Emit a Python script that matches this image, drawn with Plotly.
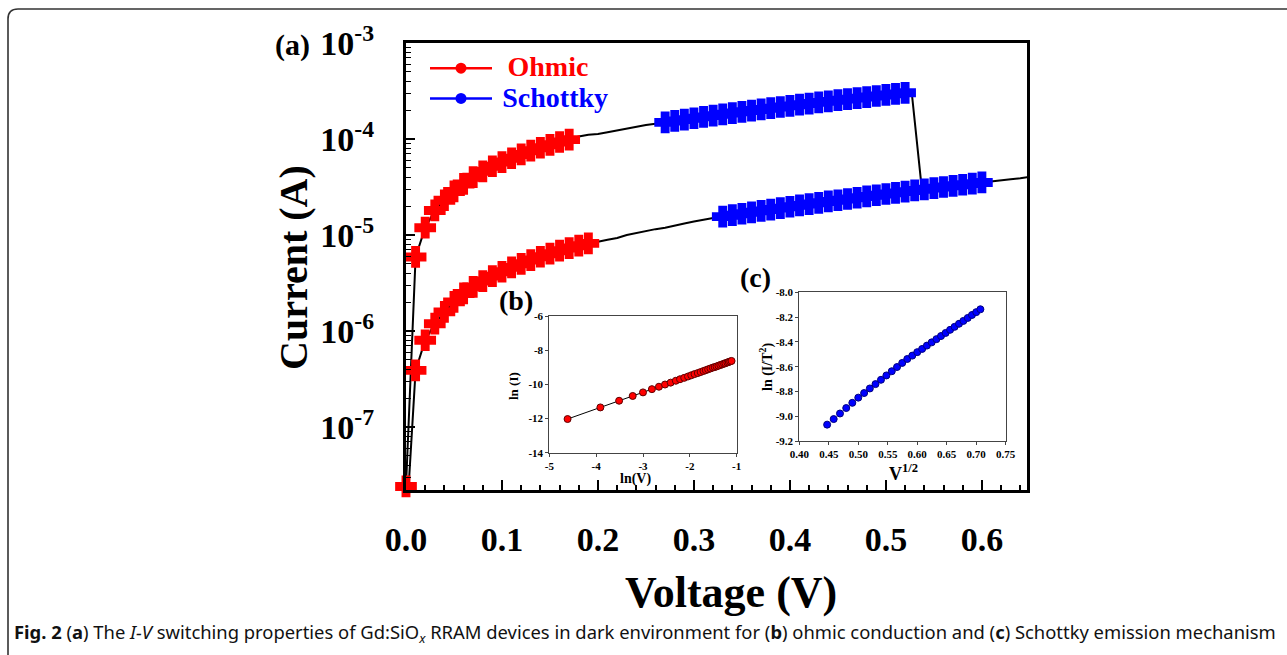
import plotly.graph_objects as go

# ---------------- main I-V data ----------------
# low resistance state (upper curve)
V_lrs_red = [0.00, 0.01, 0.02, 0.03, 0.04, 0.05, 0.06, 0.07, 0.08, 0.09, 0.10,
             0.11, 0.12, 0.13, 0.14, 0.15, 0.16, 0.17]
I_lrs_red = [2.4e-8, 5.9e-6, 1.19e-5, 1.8e-5, 2.3e-5, 2.84e-5, 3.4e-5, 4.0e-5, 4.6e-5,
             5.2e-5, 5.75e-5, 6.3e-5, 6.9e-5, 7.55e-5, 8.1e-5, 8.7e-5, 9.3e-5, 9.85e-5]
V_lrs_mid = [0.18, 0.19, 0.20, 0.21, 0.22, 0.23, 0.24, 0.25, 0.26]
I_lrs_mid = [1.059e-4, 1.109e-4, 1.127e-4, 1.175e-4, 1.230e-4, 1.288e-4, 1.349e-4,
             1.396e-4, 1.445e-4]
V_lrs_blue = [0.27, 0.28, 0.29, 0.30, 0.31, 0.32, 0.33, 0.34, 0.35, 0.36, 0.37, 0.38,
              0.39, 0.40, 0.41, 0.42, 0.43, 0.44, 0.45, 0.46, 0.47, 0.48, 0.49, 0.50,
              0.51, 0.52]
I_lrs_blue = [1.489e-4, 1.542e-4, 1.592e-4, 1.644e-4, 1.698e-4, 1.750e-4, 1.807e-4,
              1.862e-4, 1.919e-4, 1.977e-4, 2.032e-4, 2.094e-4, 2.153e-4, 2.213e-4,
              2.275e-4, 2.339e-4, 2.404e-4, 2.466e-4, 2.535e-4, 2.600e-4, 2.667e-4,
              2.735e-4, 2.805e-4, 2.877e-4, 2.951e-4, 3.027e-4]
V_reset = [0.527, 0.537]
I_reset = [2.98e-4, 3.3e-5]

# high resistance state (lower curve)
V_hrs_start = [0.002]
I_hrs_start = [1.8e-8]
V_hrs_red = [0.01, 0.02, 0.03, 0.04, 0.05, 0.06, 0.07, 0.08, 0.09, 0.10, 0.11, 0.12,
             0.13, 0.14, 0.15, 0.16, 0.17, 0.18, 0.19]
I_hrs_red = [3.88e-7, 8.0e-7, 1.19e-6, 1.58e-6, 2.01e-6, 2.46e-6, 2.88e-6, 3.31e-6,
             3.73e-6, 4.14e-6, 4.60e-6, 5.01e-6, 5.48e-6, 5.93e-6, 6.38e-6, 6.86e-6,
             7.31e-6, 7.73e-6, 8.18e-6]
V_hrs_mid = [0.20, 0.21, 0.22, 0.23, 0.24, 0.25, 0.26, 0.27, 0.28, 0.29, 0.30, 0.31, 0.32]
I_hrs_mid = [8.5e-6, 8.9e-6, 9.3e-6, 1.0e-5, 1.05e-5, 1.1e-5, 1.15e-5, 1.19e-5, 1.26e-5,
             1.32e-5, 1.38e-5, 1.45e-5, 1.5e-5]
V_hrs_blue = [0.33, 0.34, 0.35, 0.36, 0.37, 0.38, 0.39, 0.40, 0.41, 0.42, 0.43, 0.44,
              0.45, 0.46, 0.47, 0.48, 0.49, 0.50, 0.51, 0.52, 0.53, 0.54, 0.55, 0.56,
              0.57, 0.58, 0.59, 0.60]
I_hrs_blue = [1.552e-5, 1.607e-5, 1.663e-5, 1.722e-5, 1.782e-5, 1.841e-5, 1.905e-5,
              1.968e-5, 2.032e-5, 2.099e-5, 2.163e-5, 2.234e-5, 2.301e-5, 2.371e-5,
              2.443e-5, 2.518e-5, 2.594e-5, 2.673e-5, 2.748e-5, 2.831e-5, 2.911e-5,
              2.992e-5, 3.076e-5, 3.162e-5, 3.251e-5, 3.334e-5, 3.428e-5, 3.524e-5]
V_hrs_end = [0.61, 0.62, 0.63, 0.64, 0.65]
I_hrs_end = [3.63e-5, 3.72e-5, 3.80e-5, 3.89e-5, 4.03e-5]

# ---------------- inset (b): ln(I) vs ln(V) ----------------
lnV_b = [-4.61, -3.91, -3.51, -3.22, -3.00, -2.81, -2.66, -2.53, -2.41, -2.30, -2.21,
         -2.12, -2.04, -1.97, -1.90, -1.83, -1.77, -1.71, -1.66, -1.61, -1.56, -1.51,
         -1.47, -1.43, -1.39, -1.35, -1.31, -1.27, -1.24, -1.20, -1.17, -1.14, -1.11]
lnI_b = [-12.03, -11.35, -10.96, -10.68, -10.47, -10.28, -10.14, -10.01, -9.90, -9.79,
         -9.70, -9.62, -9.54, -9.47, -9.40, -9.34, -9.28, -9.22, -9.17, -9.12, -9.07,
         -9.02, -8.99, -8.95, -8.91, -8.87, -8.83, -8.79, -8.76, -8.72, -8.69, -8.66, -8.63]

# ---------------- inset (c): ln(I/T^2) vs V^1/2 ----------------
sqrtV_c = [0.4472, 0.4583, 0.4690, 0.4796, 0.4899, 0.5000, 0.5099, 0.5196, 0.5292,
           0.5385, 0.5477, 0.5568, 0.5657, 0.5745, 0.5831, 0.5916, 0.6000, 0.6083,
           0.6164, 0.6245, 0.6325, 0.6403, 0.6481, 0.6557, 0.6633, 0.6708, 0.6782,
           0.6856, 0.6928, 0.7000, 0.7071]
lnIT2_c = [-9.068, -9.023, -8.978, -8.934, -8.892, -8.850, -8.813, -8.776, -8.741,
           -8.706, -8.671, -8.637, -8.603, -8.570, -8.538, -8.511, -8.483, -8.457,
           -8.430, -8.404, -8.378, -8.353, -8.328, -8.303, -8.279, -8.254, -8.231,
           -8.207, -8.183, -8.160, -8.137]

# tick labels
x_main_ticks = [0.0, 0.1, 0.2, 0.3, 0.4, 0.5, 0.6]
x_main_text = ["0.0", "0.1", "0.2", "0.3", "0.4", "0.5", "0.6"]
y_main_ticks = [1e-7, 1e-6, 1e-5, 1e-4, 1e-3]
y_main_text = ["10<sup>-7</sup>", "10<sup>-6</sup>", "10<sup>-5</sup>",
               "10<sup>-4</sup>", "10<sup>-3</sup>"]
xb_ticks = [-5, -4, -3, -2, -1]
xb_text = ["-5", "-4", "-3", "-2", "-1"]
yb_ticks = [-14, -12, -10, -8, -6]
yb_text = ["-14", "-12", "-10", "-8", "-6"]
xc_ticks = [0.40, 0.45, 0.50, 0.55, 0.60, 0.65, 0.70, 0.75]
xc_text = ["0.40", "0.45", "0.50", "0.55", "0.60", "0.65", "0.70", "0.75"]
yc_ticks = [-9.2, -9.0, -8.8, -8.6, -8.4, -8.2, -8.0]
yc_text = ["-9.2", "-9.0", "-8.8", "-8.6", "-8.4", "-8.2", "-8.0"]

W, H = 1287, 655
SERIF = "Liberation Serif, Times New Roman, serif"


def px_x(p):
    return p / W


def px_y(p):
    return 1 - p / H


fig = go.Figure()

# curves (lines)
fig.add_trace(go.Scatter(
    x=V_lrs_red + V_lrs_mid + V_lrs_blue + V_reset,
    y=I_lrs_red + I_lrs_mid + I_lrs_blue + I_reset,
    mode="lines", line=dict(color="black", width=2), showlegend=False,
    xaxis="x", yaxis="y"))
fig.add_trace(go.Scatter(
    x=V_hrs_start + V_hrs_red + V_hrs_mid + V_hrs_blue + V_hrs_end,
    y=I_hrs_start + I_hrs_red + I_hrs_mid + I_hrs_blue + I_hrs_end,
    mode="lines", line=dict(color="black", width=2), showlegend=False,
    xaxis="x", yaxis="y"))

# ohmic markers
fig.add_trace(go.Scatter(
    x=V_lrs_red + [None] + V_hrs_red, y=I_lrs_red + [None] + I_hrs_red,
    mode="markers", cliponaxis=False, showlegend=False,
    marker=dict(color="#ff0000", symbol="cross", size=16,
                line=dict(color="#ff0000", width=2.5)),
    xaxis="x", yaxis="y"))
# schottky markers
fig.add_trace(go.Scatter(
    x=V_lrs_blue + [None] + V_hrs_blue, y=I_lrs_blue + [None] + I_hrs_blue,
    mode="markers", cliponaxis=False, showlegend=False,
    marker=dict(color="#0000ff", symbol="cross", size=16,
                line=dict(color="#0000ff", width=2.5)),
    xaxis="x", yaxis="y"))

# legend entries
fig.add_trace(go.Scatter(
    x=[None], y=[None], mode="lines+markers",
    name="&nbsp;&nbsp;<span style='font-size:28px;color:#ff0000'>Ohmic</span>",
    line=dict(color="#ff0000", width=2.5),
    marker=dict(color="#ff0000", symbol="circle", size=11),
    xaxis="x", yaxis="y"))
fig.add_trace(go.Scatter(
    x=[None], y=[None], mode="lines+markers",
    name="&nbsp;<span style='font-size:28px;color:#0000ff'>Schottky</span>",
    line=dict(color="#0000ff", width=2.5),
    marker=dict(color="#0000ff", symbol="circle", size=11),
    xaxis="x", yaxis="y"))

# inset b
fig.add_trace(go.Scatter(
    x=lnV_b, y=lnI_b, mode="lines+markers", showlegend=False,
    line=dict(color="black", width=1),
    marker=dict(color="#ff0000", size=7, line=dict(color="#600000", width=1)),
    xaxis="x2", yaxis="y2"))
# inset c
fig.add_trace(go.Scatter(
    x=sqrtV_c, y=lnIT2_c, mode="markers", showlegend=False,
    marker=dict(color="#0000ff", size=7, line=dict(color="#000080", width=1)),
    xaxis="x3", yaxis="y3"))

main_font = dict(family=SERIF, size=34, color="black", weight="bold")
minor_x = dict(ticks="inside", ticklen=5, tickwidth=1.5, tickcolor="black",
               dtick=0.02, showgrid=False)
minor_y_vals = [m * 10 ** e for e in range(-8, -3) for m in range(2, 10)
                if 2.2e-8 <= m * 10 ** e <= 1e-3]

inset_font = dict(family=SERIF, size=11, color="black", weight="bold")

fig.update_layout(
    width=W, height=H, template="none",
    paper_bgcolor="white", plot_bgcolor="white",
    margin=dict(l=0, r=0, t=0, b=0),
    showlegend=True,
    legend=dict(x=px_x(425), y=px_y(48), xanchor="left", yanchor="top",
                bgcolor="rgba(0,0,0,0)", itemwidth=62, tracegroupgap=0,
                font=dict(family=SERIF, size=21, weight="bold", color="black")),
    xaxis=dict(domain=[px_x(406), px_x(1027)], range=[0, 0.647],
               showline=True, linewidth=3, linecolor="black", mirror=True,
               ticks="inside", ticklen=10, tickwidth=1.5, tickcolor="black",
               tickvals=x_main_ticks, ticktext=x_main_text, tickfont=main_font,
               ticklabelstandoff=17, showgrid=False, zeroline=False,
               minor=minor_x, anchor="y"),
    yaxis=dict(domain=[px_y(490), px_y(43)], type="log",
               range=[-7.657, -3.0],
               showline=True, linewidth=3, linecolor="black", mirror=True,
               ticks="inside", ticklen=9, tickwidth=1.5, tickcolor="black",
               tickvals=y_main_ticks, ticktext=y_main_text, tickfont=main_font,
               ticklabelstandoff=22, showgrid=False, zeroline=False,
               minor=dict(ticks="inside", ticklen=5, tickwidth=1, tickcolor="black",
                          tickvals=minor_y_vals, showgrid=False),
               anchor="x"),
    xaxis2=dict(domain=[px_x(549.3), px_x(736.7)], range=[-5, -1],
                showline=True, linewidth=1, linecolor="#444", mirror=True,
                ticks="outside", ticklen=3, tickcolor="#444",
                tickvals=xb_ticks, ticktext=xb_text, tickfont=inset_font,
                showgrid=False, zeroline=False, anchor="y2"),
    yaxis2=dict(domain=[px_y(452.7), px_y(316)], range=[-14, -6],
                showline=True, linewidth=1, linecolor="#444", mirror=True,
                ticks="outside", ticklen=3, tickcolor="#444",
                tickvals=yb_ticks, ticktext=yb_text, tickfont=inset_font,
                showgrid=False, zeroline=False, anchor="x2"),
    xaxis3=dict(domain=[px_x(799.3), px_x(1005.7)], range=[0.40, 0.75],
                showline=True, linewidth=1, linecolor="#444", mirror=True,
                ticks="outside", ticklen=3, tickcolor="#444",
                tickvals=xc_ticks, ticktext=xc_text, tickfont=inset_font,
                showgrid=False, zeroline=False, anchor="y3"),
    yaxis3=dict(domain=[px_y(441), px_y(292.3)], range=[-9.2, -8.0],
                showline=True, linewidth=1, linecolor="#444", mirror=True,
                ticks="outside", ticklen=3, tickcolor="#444",
                tickvals=yc_ticks, ticktext=yc_text, tickfont=inset_font,
                showgrid=False, zeroline=False, anchor="x3"),
)


def ann(text, x, y, size, angle=0, family=SERIF, bold=True, xanchor="center"):
    fig.add_annotation(text=text, x=px_x(x), y=px_y(y), xref="paper", yref="paper",
                       showarrow=False, textangle=angle, xanchor=xanchor,
                       yanchor="middle",
                       font=dict(family=family, size=size, color="black",
                                 weight="bold" if bold else "normal"))


ann("Current (A)", 293, 268, 40, angle=-90)
ann("Voltage (V)", 731, 592, 44)
ann("(a)", 292, 45, 30)
ann("(b)", 516, 301, 28)
ann("(c)", 755, 277, 28)
ann("ln(V)", 635, 479, 14)
ann("ln (I)", 513, 386, 13, angle=-90)
ann("V<sup>1/2</sup>", 903, 472, 18)
ann("ln (I/T<sup>2</sup>)", 767, 367, 14, angle=-90)

fig.add_annotation(
    text="<b>Fig. 2</b> (<b>a</b>) The <i>I-V</i> switching properties of Gd:SiO<sub><i>x</i></sub> "
         "RRAM devices in dark environment for (<b>b</b>) ohmic conduction and "
         "(<b>c</b>) Schottky emission mechanism",
    x=px_x(12), y=px_y(633), xref="paper", yref="paper", showarrow=False,
    xanchor="left", yanchor="middle",
    font=dict(family="Liberation Sans Narrow, Noto Sans, sans-serif", size=18.4,
              color="#111"))

# figure frame (rounded top-left corner, open at right)
x0, yt, r = 8, 9, 10
path = (f"M {px_x(x0)},{px_y(H + 5)} L {px_x(x0)},{px_y(yt + r)} "
        f"Q {px_x(x0)},{px_y(yt)} {px_x(x0 + r)},{px_y(yt)} L {px_x(W + 5)},{px_y(yt)}")
fig.add_shape(type="path", path=path, xref="paper", yref="paper",
              line=dict(color="#333", width=1.6))

fig.write_html("out.html",
               config={"displayModeBar": False},
               post_script="document.body.style.margin='0px';"
                           "document.body.style.overflow='hidden';")
